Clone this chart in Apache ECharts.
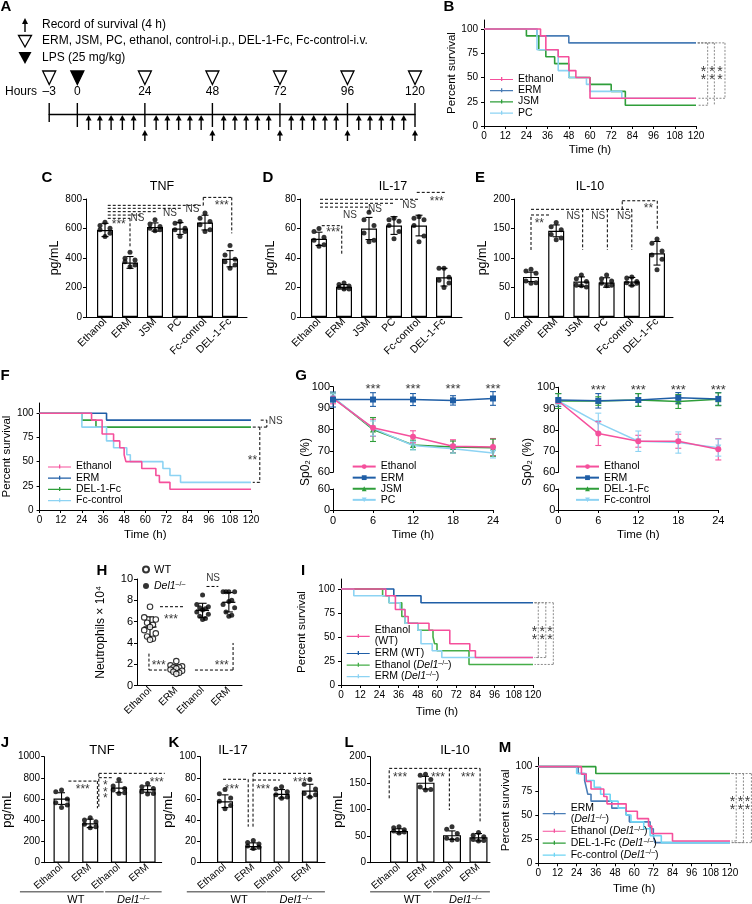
<!DOCTYPE html>
<html>
<head>
<meta charset="utf-8">
<title>DEL-1 survival and cytokine panels</title>
<script src="https://cdn.jsdelivr.net/npm/echarts@6.0.0/dist/echarts.min.js"></script>
<style>
html,body{margin:0;padding:0;background:#fff;}
#chart{width:752px;height:904px;}
</style>
</head>
<body>
<div id="chart"></div>
<script>
const FONT = '"Liberation Sans", Arial, Helvetica, sans-serif';
const STUDY_END = 120;

// ================= DATA =================
// Panel A – schedule (hours)
const A_doseHours = [-3, 24, 48, 72, 96, 120];
const A_lpsHours = [0];
const A_recordHours = [4, 8, 12, 16, 20, 24, 28, 32, 36, 40, 44, 48, 52, 56, 60, 64, 68, 72, 76, 80, 84, 88, 92, 96, 100, 104, 108, 112, 116, 120];

// Panel B – Kaplan–Meier [time h, % survival]
const B_ethanol = [[0,100],[32,92.9],[35,78.6],[42,71.4],[48,57.1],[52,50],[60,28.6]];
const B_erm = [[0,100],[30,92.9],[48,85.7]];
const B_jsm = [[0,100],[24,92.9],[31,78.6],[35,71.4],[40,64.3],[48,50],[60,42.9],[72,35.7],[80,21.4]];
const B_pc = [[0,100],[30,78.6],[42,57.1],[48,50],[58,42.9],[60,35.7],[78,28.6]];

// Panels C–E – cytokines (pg/mL)
const CDE_cats = ['Ethanol', 'ERM', 'JSM', 'PC', 'Fc-control', 'DEL-1-Fc'];
const C_tnfMean = [590, 370, 610, 600, 640, 395];
const C_tnfSD = [45, 40, 28, 40, 50, 55];
const C_tnfDots = [[643,620,602,591,568,545],[439,398,386,375,352,341],[659,630,614,602,591,584],[648,636,602,591,580,545],[705,670,648,625,591,580],[484,420,391,375,352,330]];
const D_il17Mean = [53, 20.5, 60, 62, 62, 27];
const D_il17SD = [4.5, 1.5, 7.5, 6, 7, 6];
const D_il17Dots = [[60,58,54,52,49,48],[23,22,21,20,19,19],[71,66,62,57,52,51],[67,66,65,62,58,53],[68,67,66,62,55,51],[33,33,27,25,23,20]];
const E_il10Mean = [68, 146, 60, 58.5, 60, 108];
const E_il10SD = [8, 10, 8, 8, 7, 20];
const E_il10Dots = [[81,78,74,61,58,57],[160,153,148,140,134,131],[71,65,60,54,51,53],[71,65,61,57,54,53],[68,66,60,58,57,54],[132,125,112,105,98,80]];

// Panel F – Kaplan–Meier
const F_ethanol = [[0,100],[29.5,92.9],[35.5,78.6],[42,71.4],[45.5,64.3],[48,57.1],[49,50],[58,42.9],[66,35.7],[68,28.6],[74,21.4]];
const F_erm = [[0,100],[38,92.9]];
const F_del = [[0,100],[24,92.9],[32,85.7]];
const F_fc = [[0,100],[24,85.7],[38,71.4],[42,64.3],[49.5,57.1],[51.5,50],[70,42.9],[74,35.7],[80,28.6]];

// Panel G – SpO2 (%) mean and SD at each time
const G_times = [0, 6, 12, 18, 24];
const G_starTimes = [6, 12, 18, 24];
const G1_ethanol = [94.5, 80.8, 76.6, 72.2, 71.8];   const G1_ethanolSD = [2.5, 4, 2.8, 3, 4];
const G1_erm = [94, 94, 94, 93.6, 94.5];              const G1_ermSD = [3.5, 3.2, 2.8, 2.2, 3.2];
const G1_jsm = [95, 80, 72.8, 71.8, 71.5];            const G1_jsmSD = [2, 5.6, 2.2, 2.8, 4];
const G1_pc = [95, 80.5, 72.5, 71, 69];               const G1_pcSD = [2, 3.5, 2, 2, 2.3];
const G2_ethanol = [93.5, 78.2, 74.6, 74.6, 70.8];    const G2_ethanolSD = [1, 5.6, 2.8, 3.3, 5];
const G2_erm = [94, 93.6, 94, 95, 94.5];              const G2_ermSD = [3, 3.4, 3, 2.5, 3];
const G2_del = [93.5, 93.5, 94, 93.3, 94.3];          const G2_delSD = [3.5, 2, 3, 3.3, 3];
const G2_fc = [93.5, 83.2, 74.6, 74, 71.6];           const G2_fcSD = [1.5, 4.6, 4.8, 5, 4];

// Panel H – neutrophils (×10^4)
const H_cats = ['Ethanol', 'ERM', 'Ethanol', 'ERM'];
const H_wtEthanol = [7.4, 6.4, 6.2, 5.9, 5.7, 5.5, 5.2, 4.9, 4.6, 4.4, 4.3];
const H_wtERM = [2.3, 1.9, 1.8, 1.7, 1.7, 1.6, 1.5, 1.4, 1.3, 1.2, 1.1];
const H_koEthanol = [8.5, 7.6, 7.4, 7.3, 7.2, 7.1, 6.9, 6.7, 6.5, 6.3, 6.2];
const H_koERM = [8.8, 8.8, 8.8, 8.8, 8.0, 7.9, 7.6, 7.3, 6.9, 6.6, 6.5];

// Panel I – Kaplan–Meier
const I_ethWT = [[0,100],[28,92.9],[34,78.6],[40,71.4],[42,64.3],[55,57.1],[68,42.9],[80.5,35.7],[84,28.6]];
const I_ermWT = [[0,100],[33,92.9],[50,85.7]];
const I_ethKO = [[0,100],[26,92.9],[30,85.7],[38,71.4],[40,64.3],[48,57.1],[57.5,50],[58.5,42.9],[60,35.7],[80,21.4]];
const I_ermKO = [[0,100],[8,92.9],[30,85.7],[37,78.6],[40,64.3],[48,57.1],[50,42.9],[57,35.7],[63,28.6]];

// Panels J–L – cytokines in WT vs Del1-/-
const JKL_cats = ['Ethanol', 'ERM', 'Ethanol', 'ERM'];
const J_tnfMean = [605, 371, 710, 695];
const J_tnfSD = [55, 40, 50, 30];
const J_tnfDots = [[685,670,600,565,545,520],[425,402,387,362,340,330],[786,723,701,685,660,654],[748,717,701,670,654,648]];
const K_il17Mean = [58, 15.7, 65, 68];
const K_il17SD = [6, 3, 4, 6];
const K_il17Dots = [[69,65,61,58,54,51],[21,19,17.6,15.7,14.5,13.5],[71.7,69.5,67,64,62,60.7],[78.6,74,69.5,65.4,64,62]];
const L_il10Mean = [60, 151, 52, 48];
const L_il10SD = [4, 12, 8, 7];
const L_il10Dots = [[68,66,62,60,58,56],[167,165,157,143,138,137],[68,63,55,46,44,43],[57,52,49,44,42,41]];

// Panel M – Kaplan–Meier (Del1-/-)
const M_erm = [[0,100],[25,92.9],[29,85.7],[30,78.6],[31,71.4],[33,64.3],[46,57.1],[55,50],[57,42.9],[70,35.7],[72,28.6],[73,21.4]];
const M_ethanol = [[0,100],[27,92.3],[30,84.6],[33,76.9],[41,69.2],[43,61.5],[55,53.8],[62,46.2],[69,38.5],[71,30.8],[84,23.1]];
const M_del = [[0,100],[36,92.9]];
const M_fc = [[0,100],[24,92.9],[30,85.7],[35,78.6],[39,71.4],[45,64.3],[50,57.1],[55,50],[58,42.9],[66,35.7],[70,28.6],[77,21.4]];

// ================= STYLE =================
const PINK = '#f5509c', STEEL = '#4a7db6', NAVY = '#1f5ea6', GREEN = '#2f9e3a', LGREEN = '#45ad48', SKY = '#8dd3f3', CYAN = '#6fd5f4';
const JIT6 = [0, -0.2, 0.2, -0.2, 0.2, 0];
const JIT11 = [0, -0.22, 0.22, -0.11, 0.11, 0, -0.22, 0.22, -0.11, 0.11, 0];
const KM_TICKS = [0, 25, 50, 75, 100];
const KM_ICON = 'path://M0,3.3h23v1.2h-23z M11,1.5h1.3v4h-1.3z';
const A_PRE_POS = -10; // schematic position of the pre-treatment dose on the timeline
const RICH = {
  i: {fontStyle: 'italic', fontSize: 10.5, fontFamily: FONT, color: '#000'},
  s: {fontSize: 7, fontFamily: FONT, color: '#000', verticalAlign: 'top'}
};
const KO = '({i|Del1}{s|–/–})';

// ================= HELPERS =================
const opt = {animation: false, backgroundColor: '#fff', textStyle: {fontFamily: FONT}, grid: [], xAxis: [], yAxis: [], series: [], legend: []};
const graphics = [];
const DISP = {};

function deepMerge(a, b) {
  const o = Object.assign({}, a);
  for (const k in b) {
    const v = b[k];
    if (v && typeof v === 'object' && !Array.isArray(v) && a && a[k] && typeof a[k] === 'object' && !Array.isArray(a[k])) o[k] = deepMerge(a[k], v);
    else o[k] = v;
  }
  return o;
}
function valAxis(extra) {
  return deepMerge({
    type: 'value', silent: true,
    axisLine: {show: true, onZero: false, lineStyle: {color: '#000', width: 1}},
    axisTick: {show: true, length: 3, lineStyle: {color: '#000', width: 1}},
    axisLabel: {color: '#000', fontSize: 10, fontFamily: FONT, margin: 4, formatter: v => String(v)},
    splitLine: {show: false},
    nameTextStyle: {color: '#000', fontFamily: FONT, fontSize: 11.5}
  }, extra || {});
}
function addGrid(x0, x1, y0, y1, xa, ya) {
  const i = opt.grid.length;
  opt.grid.push({left: x0, top: y0, width: x1 - x0, height: y1 - y0});
  opt.xAxis.push(Object.assign({gridIndex: i}, xa));
  opt.yAxis.push(Object.assign({gridIndex: i}, ya));
  return i;
}
// annotation path (significance brackets) drawn through the axes' scales
function pathSeries(gi, pts, style) {
  const st = Object.assign({color: '#000', width: 1, dash: [3, 2]}, style || {});
  return {type: 'custom', xAxisIndex: gi, yAxisIndex: gi, silent: true, clip: false, z: 5,
    data: pts, encode: {x: 0, y: 1},
    renderItem: (p, api) => {
      const i = p.dataIndex;
      if (i >= pts.length - 1) return null;
      const a = api.coord(pts[i]), b = api.coord(pts[i + 1]);
      return {type: 'line', shape: {x1: a[0], y1: a[1], x2: b[0], y2: b[1]}, style: {stroke: st.color, lineWidth: st.width, lineDash: st.dash}};
    }};
}
function textSeries(gi, items, size, lh) {
  return {type: 'scatter', xAxisIndex: gi, yAxisIndex: gi, silent: true, clip: false, symbolSize: 1, z: 6,
    itemStyle: {color: 'rgba(0,0,0,0)'},
    data: items.map(t => {
      const star = t[0].indexOf('*') >= 0;
      return {value: [t[1], t[2]], label: {formatter: t[0], offset: star ? [0, 3] : [0, 0], fontSize: star ? (size || 12) : 10}};
    }),
    label: {show: true, position: 'inside', color: '#000', fontSize: size || 12, fontFamily: FONT, lineHeight: lh || 6.5}};
}
function errSeries(gi, xs, means, sds, color, cap, meanW) {
  return {type: 'custom', xAxisIndex: gi, yAxisIndex: gi, silent: true, clip: false, z: 4,
    data: xs.map((x, i) => [x, means[i] - sds[i], means[i] + sds[i], means[i]]),
    encode: {x: 0, y: [1, 2]},
    renderItem: (p, api) => {
      const lo = api.coord([api.value(0), api.value(1)]), hi = api.coord([api.value(0), api.value(2)]);
      const w = cap / 2, st = {stroke: color, lineWidth: 1.1};
      const ch = [
        {type: 'line', shape: {x1: lo[0], y1: lo[1], x2: hi[0], y2: hi[1]}, style: st},
        {type: 'line', shape: {x1: lo[0] - w, y1: lo[1], x2: lo[0] + w, y2: lo[1]}, style: st},
        {type: 'line', shape: {x1: hi[0] - w, y1: hi[1], x2: hi[0] + w, y2: hi[1]}, style: st}];
      if (meanW) {
        const m = api.coord([api.value(0), api.value(3)]);
        ch.push({type: 'line', shape: {x1: m[0] - meanW / 2, y1: m[1], x2: m[0] + meanW / 2, y2: m[1]}, style: {stroke: color, lineWidth: 1.3}});
      }
      return {type: 'group', children: ch};
    }};
}
function addLegend(left, top, names, extra) {
  opt.legend.push(deepMerge({
    orient: 'vertical', left: left, top: top, padding: 0, itemGap: 0, itemWidth: 23, itemHeight: 7,
    selectedMode: false, data: names, formatter: n => DISP[n],
    textStyle: {fontSize: 10.5, fontFamily: FONT, color: '#000', lineHeight: 11.2, rich: RICH}
  }, extra || {}));
}
function gText(x, y, text, o) {
  graphics.push({type: 'text', x: x, y: y, rotation: (o && o.rot) || 0, silent: true,
    style: Object.assign({text: text, fill: '#000', fontFamily: FONT, fontSize: 12, align: 'center', verticalAlign: 'middle', rich: RICH}, o && o.style || {})});
}
function mean(a) { return a.reduce((s, v) => s + v, 0) / a.length; }
function sd(a) { const m = mean(a); return Math.sqrt(a.reduce((s, v) => s + (v - m) * (v - m), 0) / (a.length - 1)); }

// ---------- Kaplan–Meier panel ----------
function kmPanel(c) {
  const gi = addGrid(c.x0, c.x1, c.y0, c.y1,
    valAxis({min: 0, max: STUDY_END, interval: 12, name: 'Time (h)', nameLocation: 'middle', nameGap: c.xGap, axisLabel: {margin: 5}}),
    valAxis({min: 0, max: c.ymax, name: 'Percent survival', nameLocation: 'middle', nameGap: c.yGap,
      axisLabel: {customValues: KM_TICKS, margin: 6}, axisTick: {customValues: KM_TICKS}}));
  c.series.forEach(s => {
    DISP[s.key] = s.label;
    const d = s.data.slice();
    const last = d[d.length - 1];
    if (last[0] < STUDY_END) d.push([STUDY_END, last[1]]);
    opt.series.push({type: 'line', name: s.key, xAxisIndex: gi, yAxisIndex: gi, step: 'end', data: d,
      symbol: 'none', silent: true, lineStyle: {color: s.color, width: 1.6}, itemStyle: {color: s.color}, z: s.z || 3});
  });
  c.brackets.forEach(p => opt.series.push(pathSeries(gi, p, c.bracketStyle)));
  opt.series.push(textSeries(gi, c.texts, c.textSize || 14, 8));
  addLegend(c.legLeft, c.legTop, c.series.map(s => s.key), deepMerge({icon: KM_ICON}, c.legExtra || {}));
  return gi;
}

// ---------- bar + dot panel ----------
function barPanel(c) {
  const idx = c.cats.map((_, i) => i);
  const gi = addGrid(c.x0, c.x1, c.y0, c.y1,
    valAxis({min: (c.x0 - c.first) / c.step, max: (c.x1 - c.first) / c.step, axisTick: {show: false},
      axisLabel: {customValues: idx, rotate: c.rot, fontSize: c.lab, margin: 3, formatter: v => c.cats[Math.round(v)] || ''}}),
    valAxis({min: 0, max: c.ymax, interval: c.yint, name: 'pg/mL', nameLocation: 'middle', nameGap: c.yGap,
      nameTextStyle: {fontSize: c.nameSize}}));
  opt.series.push({type: 'bar', xAxisIndex: gi, yAxisIndex: gi, barWidth: c.barW, silent: true, z: 2,
    data: idx.map(i => [i, c.means[i]]), itemStyle: {color: '#fff', borderColor: '#000', borderWidth: 1.2}});
  opt.series.push(errSeries(gi, idx, c.means, c.sds, '#000', 7));
  const dots = [];
  c.dots.forEach((g, i) => g.forEach((v, j) => dots.push([i + JIT6[j % JIT6.length], v])));
  opt.series.push({type: 'scatter', xAxisIndex: gi, yAxisIndex: gi, silent: true, z: 4, symbolSize: 5, itemStyle: {color: '#000'}, data: dots});
  c.lines.forEach(p => opt.series.push(pathSeries(gi, p)));
  opt.series.push(textSeries(gi, c.texts, 12));
  return gi;
}

// ---------- SpO2 panel (broken axis) ----------
function spo2Panel(c) {
  const up = addGrid(c.x0, c.x1, c.yU0, c.yU1,
    valAxis({min: 0, max: 24, interval: 6, show: false}),
    valAxis({min: 60, max: 100, interval: 10, axisLabel: {fontSize: 11, margin: 3}}));
  const lo = addGrid(c.x0, c.x1, c.yL0, c.yL1,
    valAxis({min: 0, max: 24, interval: 6, name: 'Time (h)', nameLocation: 'middle', nameGap: 19, axisLabel: {fontSize: 11, margin: 5}}),
    valAxis({min: 0, max: 60, interval: 60, axisLabel: {fontSize: 11, margin: 3}}));
  c.series.forEach(s => {
    DISP[s.key] = s.label;
    opt.series.push(errSeries(up, G_times, s.mean, s.sd, s.color, 6));
    opt.series.push({type: 'line', name: s.key, xAxisIndex: up, yAxisIndex: up, silent: true, clip: false, z: s.z || 3,
      data: G_times.map((t, i) => [t, s.mean[i]]), symbol: s.symbol, symbolRotate: s.rot || 0, symbolSize: 6,
      lineStyle: {color: s.color, width: 1.5}, itemStyle: {color: s.color}});
  });
  opt.series.push(textSeries(up, G_starTimes.map(t => ['***', t, 100]), 13));
  addLegend(c.legLeft, 461, c.series.map(s => s.key), {itemHeight: 6, textStyle: {lineHeight: 11.1}});
  gText(c.nameX, 462, 'Sp0₂ (%)', {rot: Math.PI / 2, style: {fontSize: 12}});
  return [up, lo];
}

// ================= PANEL A =================
(function () {
  const gi = addGrid(49.2, 415, 100, 114,
    {type: 'value', min: A_PRE_POS, max: 120, axisLine: {show: true, onZero: false, lineStyle: {color: '#000', width: 1.4}}, axisTick: {show: false}, axisLabel: {show: false}, splitLine: {show: false}},
    {type: 'value', min: 0, max: 1, show: false});
  const ev = [];
  A_doseHours.forEach(h => ev.push([h < 0 ? A_PRE_POS : h, 0, h]));
  A_lpsHours.forEach(h => ev.push([h, 1, h]));
  A_recordHours.forEach(h => ev.push([h, 2, h]));
  opt.series.push({type: 'custom', xAxisIndex: gi, yAxisIndex: gi, silent: true, clip: false, data: ev, encode: {x: 0},
    renderItem: (p, api) => {
      const pos = api.value(0), kind = api.value(1), h = api.value(2);
      const c = api.coord([pos, 0]);
      const x = c[0], y = c[1];
      if (kind === 2) {
        const below = h % 24 === 0;
        const tip = below ? y + 16 : y + 1, bot = below ? y + 27 : y + 16;
        return {type: 'group', children: [
          {type: 'line', shape: {x1: x, y1: tip + 4, x2: x, y2: bot}, style: {stroke: '#000', lineWidth: 1.4}},
          {type: 'polygon', shape: {points: [[x, tip], [x - 3, tip + 5.5], [x + 3, tip + 5.5]]}, style: {fill: '#000'}}]};
      }
      const filled = kind === 1;
      return {type: 'group', children: [
        {type: 'line', shape: {x1: x, y1: y - 11, x2: x, y2: h < 0 ? y + 8 : y + 13}, style: {stroke: '#000', lineWidth: 1.4}},
        {type: 'polygon', shape: {points: [[x - 6.5, y - 43], [x + 6.5, y - 43], [x, y - 29.5]]}, style: {fill: filled ? '#000' : '#fff', stroke: '#000', lineWidth: 1.3}},
        {type: 'text', style: {text: h < 0 ? '–' + Math.abs(h) : String(h), x: x, y: y - 22, align: 'center', verticalAlign: 'middle', fontSize: 12, fontFamily: FONT, fill: '#000'}}]};
    }});
  graphics.push({type: 'line', shape: {x1: 25, y1: 23, x2: 25, y2: 32}, style: {stroke: '#000', lineWidth: 1.4}, silent: true});
  graphics.push({type: 'polygon', shape: {points: [[25, 18], [22, 24], [28, 24]]}, style: {fill: '#000'}, silent: true});
  graphics.push({type: 'polygon', shape: {points: [[18.5, 35.5], [31.5, 35.5], [25, 47]]}, style: {fill: '#fff', stroke: '#000', lineWidth: 1.3}, silent: true});
  graphics.push({type: 'polygon', shape: {points: [[18.5, 52], [31.5, 52], [25, 64]]}, style: {fill: '#000'}, silent: true});
  gText(42, 25, 'Record of survival (4 h)', {style: {align: 'left'}});
  gText(42, 41, 'ERM, JSM, PC, ethanol, control-i.p., DEL-1-Fc, Fc-control-i.v.', {style: {align: 'left'}});
  gText(42, 58, 'LPS (25 mg/kg)', {style: {align: 'left'}});
  gText(5, 92, 'Hours', {style: {align: 'left'}});
})();

// ================= PANEL B =================
const dotted = {color: '#8a8a8a', dash: [2, 1.5], width: 1};
kmPanel({x0: 484, x1: 696, y0: 20, y1: 126, ymax: 109.3, xGap: 18, yGap: 24,
  series: [
    {key: 'B_eth', label: 'Ethanol', data: B_ethanol, color: PINK, z: 4},
    {key: 'B_erm', label: 'ERM', data: B_erm, color: STEEL},
    {key: 'B_jsm', label: 'JSM', data: B_jsm, color: GREEN},
    {key: 'B_pc', label: 'PC', data: B_pc, color: SKY}],
  legLeft: 490, legTop: 73.5, bracketStyle: dotted,
  brackets: [[[121,85.7],[126.6,85.7],[126.6,21.4],[121,21.4]], [[121,85.7],[130.4,85.7],[130.4,21.4]], [[121,85.7],[136.4,85.7],[136.4,28.6],[121,28.6]]],
  texts: [['*\n*', 124.2, 54], ['*\n*', 129, 54], ['*\n*', 133.6, 54]]});

// ================= PANELS C, D, E =================
barPanel({x0: 86, x1: 247, y0: 199, y1: 317, first: 105, step: 25, ymax: 800, yint: 200, barW: 16, rot: 45, lab: 10.5, yGap: 19, nameSize: 12.5,
  cats: CDE_cats, means: C_tnfMean, sds: C_tnfSD, dots: C_tnfDots,
  lines: [[[3.93,757],[3.93,811],[5.07,811],[5.07,567]], [[0.11,757],[3.93,757]], [[0.11,737],[3.07,737]], [[0.11,714],[2.07,714]], [[0.11,691],[1.45,691]], [[0.11,669],[1.0,669],[1.0,477]]],
  texts: [['***', 0.55, 645], ['NS', 1.3, 670], ['NS', 2.6, 705], ['NS', 3.5, 731], ['***', 4.67, 772]]});
barPanel({x0: 300, x1: 462, y0: 199, y1: 317, first: 319, step: 25, ymax: 80, yint: 20, barW: 16, rot: 45, lab: 10.5, yGap: 23, nameSize: 12.5,
  cats: CDE_cats, means: D_il17Mean, sds: D_il17SD, dots: D_il17Dots,
  lines: [[[3.91,84.5],[5.11,84.5]], [[0.04,79.8],[3.97,79.8]], [[0.04,77.1],[2.97,77.1]], [[0.04,74.5],[1.97,74.5]], [[0.11,61.9],[0.91,61.9],[0.91,42]]],
  texts: [['***', 4.71, 80.5], ['NS', 1.24, 69.2], ['NS', 2.24, 73], ['NS', 3.61, 76], ['***', 0.57, 59.5]]});
barPanel({x0: 514, x1: 673, y0: 199, y1: 317, first: 531, step: 25.2, ymax: 200, yint: 50, barW: 16, rot: 45, lab: 10.5, yGap: 24, nameSize: 12.5,
  cats: CDE_cats, means: E_il10Mean, sds: E_il10SD, dots: E_il10Dots,
  lines: [[[0,113.6],[0,172.9],[0.75,172.9]], [[0,182.5],[4.0,182.5]], [[2.05,182.5],[2.05,113.6]], [[3.03,182.5],[3.03,113.6]], [[4.0,182.5],[4.0,113.6]], [[3.62,182.5],[3.62,197],[5.01,197],[5.01,149]]],
  texts: [['**', 0.33, 164], ['NS', 1.68, 170], ['NS', 2.67, 170], ['NS', 3.69, 170], ['**', 4.66, 188]]});

// ================= PANEL F =================
kmPanel({x0: 38, x1: 251, y0: 403, y1: 510, ymax: 110.6, xGap: 19, yGap: 23,
  series: [
    {key: 'F_eth', label: 'Ethanol', data: F_ethanol, color: PINK, z: 4},
    {key: 'F_erm', label: 'ERM', data: F_erm, color: NAVY},
    {key: 'F_del', label: 'DEL-1-Fc', data: F_del, color: GREEN},
    {key: 'F_fc', label: 'Fc-control', data: F_fc, color: SKY}],
  legLeft: 48, legTop: 461,
  brackets: [[[121,85.7],[125,85.7],[125,28.6],[121,28.6]], [[125.5,92.9],[129,92.9],[129,85.7],[125.5,85.7]]],
  texts: [['**', 120.8, 54], ['NS', 134, 92]], textSize: 12});

// ================= PANEL G =================
spo2Panel({x0: 333, x1: 493, yU0: 386.7, yU1: 472.3, yL0: 489, yL1: 510, legLeft: 351.7, nameX: 306,
  series: [
    {key: 'G1_eth', label: 'Ethanol', mean: G1_ethanol, sd: G1_ethanolSD, color: PINK, symbol: 'circle', z: 4},
    {key: 'G1_erm', label: 'ERM', mean: G1_erm, sd: G1_ermSD, color: NAVY, symbol: 'rect', z: 5},
    {key: 'G1_jsm', label: 'JSM', mean: G1_jsm, sd: G1_jsmSD, color: GREEN, symbol: 'triangle'},
    {key: 'G1_pc', label: 'PC', mean: G1_pc, sd: G1_pcSD, color: SKY, symbol: 'triangle', rot: 180}]});
spo2Panel({x0: 558.3, x1: 718.3, yU0: 387.2, yU1: 472.3, yL0: 489, yL1: 510, legLeft: 575, nameX: 528,
  series: [
    {key: 'G2_eth', label: 'Ethanol', mean: G2_ethanol, sd: G2_ethanolSD, color: PINK, symbol: 'circle', z: 4},
    {key: 'G2_erm', label: 'ERM', mean: G2_erm, sd: G2_ermSD, color: NAVY, symbol: 'rect', z: 5},
    {key: 'G2_del', label: 'DEL-1-Fc', mean: G2_del, sd: G2_delSD, color: GREEN, symbol: 'triangle'},
    {key: 'G2_fc', label: 'Fc-control', mean: G2_fc, sd: G2_fcSD, color: SKY, symbol: 'triangle', rot: 180}]});

// ================= PANEL H =================
(function () {
  const gi = addGrid(137, 242, 579, 685.6,
    valAxis({min: -0.495, max: 3.5, axisTick: {show: false}, axisLabel: {customValues: [0, 1, 2, 3], rotate: 45, fontSize: 10, margin: 3, formatter: v => H_cats[Math.round(v)] || ''}}),
    valAxis({min: 0, max: 10, interval: 2, name: 'Neutrophils × 10⁴', nameLocation: 'middle', nameGap: 30, nameTextStyle: {fontSize: 12}, axisLabel: {fontSize: 11}}));
  const groups = [H_wtEthanol, H_wtERM, H_koEthanol, H_koERM];
  const wt = [], ko = [];
  groups.forEach((g, i) => g.forEach((v, j) => (i < 2 ? wt : ko).push([i + JIT11[j % JIT11.length], v])));
  DISP['H_wt'] = 'WT'; DISP['H_ko'] = '{i|Del1}{s|–/–}';
  opt.series.push(errSeries(gi, [0, 1, 2, 3], groups.map(mean), groups.map(sd), '#000', 8, 13));
  opt.series.push({type: 'scatter', name: 'H_wt', xAxisIndex: gi, yAxisIndex: gi, silent: true, z: 4, symbolSize: 5.5, data: wt,
    itemStyle: {color: '#fff', borderColor: '#000', borderWidth: 1.1}});
  opt.series.push({type: 'scatter', name: 'H_ko', xAxisIndex: gi, yAxisIndex: gi, silent: true, z: 4, symbolSize: 5, data: ko,
    itemStyle: {color: '#000'}});
  [[[2.15,9.3],[2.6,9.3]], [[0.38,7.4],[1.33,7.4]], [[-0.04,3.0],[-0.04,1.46],[0.63,1.46]], [[1.71,1.46],[3.16,1.46],[3.16,4.0]]]
    .forEach(p => opt.series.push(pathSeries(gi, p)));
  opt.series.push(textSeries(gi, [['NS', 2.4, 10.1], ['***', 0.8, 6.45], ['***', 0.33, 2.15], ['***', 2.73, 2.15]], 12));
  addLegend(142, 564, ['H_wt', 'H_ko'], {itemWidth: 6, itemHeight: 6, itemGap: 5.5, textStyle: {fontSize: 11, lineHeight: 11}});
})();

// ================= PANEL I =================
kmPanel({x0: 341, x1: 533, y0: 579, y1: 685, ymax: 110.4, xGap: 21, yGap: 33,
  series: [
    {key: 'I_ethWT', label: 'Ethanol\n(WT)', data: I_ethWT, color: PINK, z: 4},
    {key: 'I_ermWT', label: 'ERM (WT)', data: I_ermWT, color: NAVY},
    {key: 'I_ethKO', label: 'Ethanol ' + KO, data: I_ethKO, color: LGREEN},
    {key: 'I_ermKO', label: 'ERM ' + KO, data: I_ermKO, color: SKY}],
  legLeft: 346.7, legTop: 625, legExtra: {itemGap: 0.6, textStyle: {lineHeight: 11}}, bracketStyle: dotted,
  brackets: [[[121,85.7],[123.3,85.7],[123.3,28.6],[121,28.6]], [[121,85.7],[128,85.7],[128,28.6],[121,28.6]], [[121,85.7],[132.7,85.7],[132.7,21.4],[121,21.4]]],
  texts: [['*\n*', 120.9, 54], ['*\n*', 125.8, 54], ['*\n*', 130.6, 54]]});

// ================= PANELS J, K, L =================
const gJ = barPanel({x0: 40, x1: 161.7, y0: 756.7, y1: 862.7, first: 58, step: 29.7, ymax: 1000, yint: 200, barW: 16, rot: 40, lab: 10, yGap: 23, nameSize: 13,
  cats: JKL_cats, means: J_tnfMean, sds: J_tnfSD, dots: J_tnfDots,
  lines: [[[0.24,770],[1.25,770],[1.25,513]], [[1.30,528],[1.30,843],[3.6,843]], [[1.30,802],[1.75,802]]],
  texts: [['***', 0.74, 717], ['*\n*\n*', 1.53, 690], ['***', 3.32, 787]]});
const gK = barPanel({x0: 200, x1: 325, y0: 756.7, y1: 862.7, first: 225, step: 28.3, ymax: 100, yint: 20, barW: 16, rot: 40, lab: 10, yGap: 14, nameSize: 13,
  cats: JKL_cats, means: K_il17Mean, sds: K_il17SD, dots: K_il17Dots,
  lines: [[[-0.07,78.7],[0.82,78.7],[0.82,34]], [[0.99,34],[0.99,84.3],[3.11,84.3]], [[0.99,78],[1.94,78]]],
  texts: [['***', 0.24, 71.7], ['***', 1.35, 71.7], ['***', 2.65, 78.7]]});
const gL = barPanel({x0: 370, x1: 490, y0: 756.7, y1: 862.7, first: 399, step: 26.5, ymax: 200, yint: 50, barW: 18, rot: 40, lab: 10, yGap: 15, nameSize: 13,
  cats: JKL_cats, means: L_il10Mean, sds: L_il10SD, dots: L_il10Dots,
  lines: [[[-0.37,121.5],[-0.37,178],[3.06,178],[3.06,77.4]], [[1.9,178],[1.9,99.4]]],
  texts: [['***', 0.04, 165.5], ['***', 1.47, 165.5], ['***', 2.6, 165.5]]});

// ================= PANEL M =================
kmPanel({x0: 538.3, x1: 730, y0: 757.3, y1: 863.3, ymax: 109.7, xGap: 20, yGap: 23,
  series: [
    {key: 'M_erm', label: 'ERM\n' + KO, data: M_erm, color: STEEL},
    {key: 'M_eth', label: 'Ethanol ' + KO, data: M_ethanol, color: PINK, z: 4},
    {key: 'M_del', label: 'DEL-1-Fc ' + KO, data: M_del, color: GREEN},
    {key: 'M_fc', label: 'Fc-control ' + KO, data: M_fc, color: CYAN}],
  legLeft: 542.7, legTop: 802, legExtra: {itemGap: 0.6, textStyle: {lineHeight: 11.3}}, bracketStyle: dotted,
  brackets: [[[121,92.9],[123.9,92.9],[123.9,23.1],[121,23.1]], [[121,92.9],[128.4,92.9],[128.4,21.4],[121,21.4]], [[121,92.9],[133.4,92.9],[133.4,21.4],[121,21.4]]],
  texts: [['*\n*', 121.6, 62], ['*\n*', 126.6, 62], ['*\n*', 131, 62]]});

// ================= LETTERS & TITLES =================
[['A',6,7],['B',449,7],['C',47,178],['D',268,178],['E',480,178],['F',5,376],['G',301,376],['H',102,571],['I',303,571],['J',5,743],['K',174,743],['L',349,743],['M',505,748]]
  .forEach(l => gText(l[1], l[2], l[0], {style: {fontSize: 15, fontWeight: 'bold'}}));
[['TNF',162,187,12.5],['IL-17',393,187,12.5],['IL-10',590,187,12.5],['TNF',102,750,13],['IL-17',233,750,13],['IL-10',455,750,13]]
  .forEach(t => gText(t[1], t[2], t[0], {style: {fontSize: t[3]}}));

// ================= RENDER =================
const chart = echarts.init(document.getElementById('chart'), null, {renderer: 'canvas'});
chart.setOption(opt);

// WT / Del1-/- group bars under J, K, L (positions from the axes)
const groupSpans = [
  {gi: gJ, spans: [[-1.45, 1.47, [0, 1], 'WT'], [1.52, 3.49, [2, 3], '{i|Del1}{s|–/–}']]},
  {gi: gK, spans: [[-1.35, 1.47, [0, 1], 'WT'], [1.48, 3.53, [2, 3], '{i|Del1}{s|–/–}']]},
  {gi: gL, spans: [[-1.09, 1.23, [0, 1], 'WT'], [1.28, 3.43, [2, 3], '{i|Del1}{s|–/–}']]}];
groupSpans.forEach(g => g.spans.forEach(s => {
  const a = chart.convertToPixel({gridIndex: g.gi}, [s[0], 0]);
  const b = chart.convertToPixel({gridIndex: g.gi}, [s[1], 0]);
  const c0 = chart.convertToPixel({gridIndex: g.gi}, [s[2][0], 0]);
  const c1 = chart.convertToPixel({gridIndex: g.gi}, [s[2][1], 0]);
  graphics.push({type: 'line', silent: true, shape: {x1: a[0], y1: a[1] + 29, x2: b[0], y2: b[1] + 29}, style: {stroke: '#777', lineWidth: 1.5}});
  gText((c0[0] + c1[0]) / 2, a[1] + 37.5, s[3], {style: {fontSize: 11, rich: {i: {fontStyle: 'italic', fontSize: 11, fontFamily: FONT, color: '#000'}, s: {fontSize: 7, fontFamily: FONT, color: '#000', verticalAlign: 'top'}}}});
}));
chart.setOption({graphic: {elements: graphics}});
</script>
</body>
</html>
